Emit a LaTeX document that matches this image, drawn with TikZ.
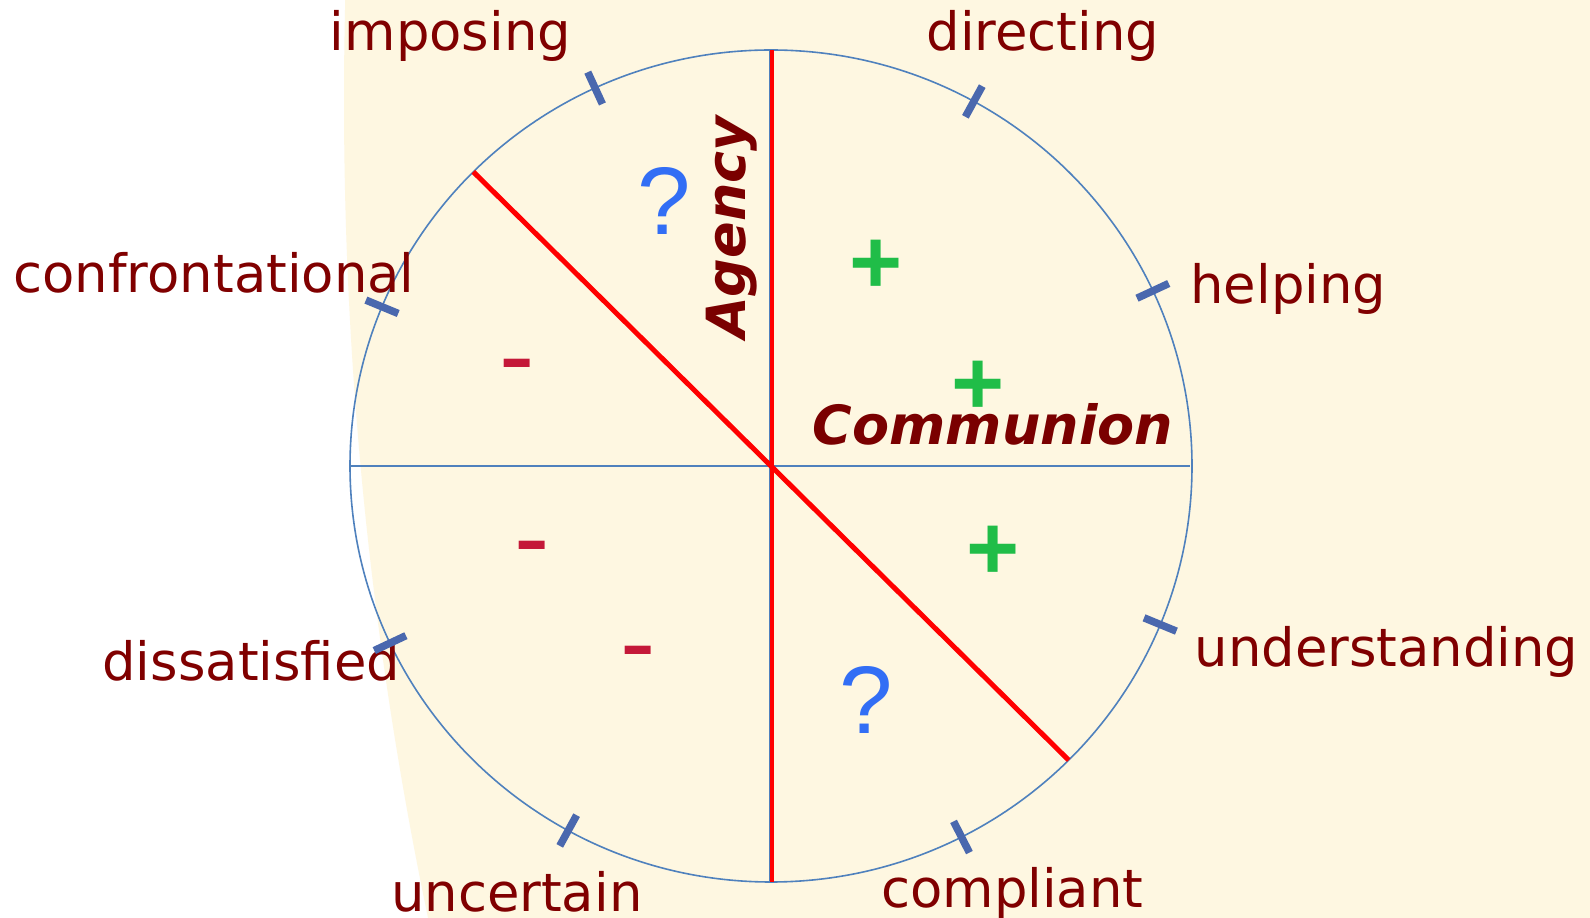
\documentclass[tikz,border=0pt]{standalone}
\usepackage{fontspec}
\setmainfont{DejaVu Sans}
\newfontfamily\symfont{Liberation Sans}
\usetikzlibrary{calc}
\definecolor{cream}{RGB}{254,247,225}
\definecolor{labred}{RGB}{128,0,0}
\definecolor{axred}{RGB}{122,0,0}
\definecolor{ringblue}{RGB}{79,129,189}
\definecolor{tickblue}{RGB}{74,104,174}
\definecolor{qblue}{RGB}{50,110,245}
\definecolor{pgreen}{RGB}{32,189,72}
\definecolor{mred}{RGB}{196,24,56}
\begin{document}
\begin{tikzpicture}[x=1pt,y=1pt,
 lab/.style={text=labred,font=\fontsize{52.8}{60}\selectfont,inner sep=0pt,anchor=base},
 axisword/.style={text=axred,font=\fontsize{54}{60}\selectfont\bfseries\itshape,inner sep=0pt,anchor=base},
 qmark/.style={text=qblue,font=\symfont\fontsize{96}{110}\selectfont,inner sep=0pt,anchor=base},
 plussign/.style={text=pgreen,font=\symfont\bfseries\fontsize{91}{100}\selectfont,inner sep=0pt,anchor=base},
 minussign/.style={text=mred,font=\symfont\fontsize{106}{110}\selectfont,inner sep=0pt,anchor=base},
 ring/.style={draw=ringblue,line width=1.6pt},
 axisline/.style={draw=ringblue,line width=2pt},
 redline/.style={draw=red,line width=5pt},
 tickmark/.style={draw=tickblue,line width=7.5pt},
]
\useasboundingbox (0,0) rectangle (1590,918);
\fill[white] (0,0) rectangle (1590,918);
\begin{scope}
\clip (0,0) rectangle (1590,918);
\fill[cream] (4328,818) circle [radius=3984];
\end{scope}

\coordinate (c) at (771,452);
\coordinate (W) at (349,452);
\coordinate (E) at (1190,452);
\coordinate (Nb) at (769.5,868);
\coordinate (Sb) at (769.5,36);
\coordinate (Nr) at (772.3,868);
\coordinate (Sr) at (772.3,36);
\coordinate (NW) at ($(c)+(135:421 and 416)$);
\coordinate (SE) at ($(c)+(-45:421 and 416)$);

\draw[ring] (c) ellipse [x radius=421, y radius=416];
\draw[axisline] (W) -- (E);
\draw[axisline] (Nb) -- (Sb);
\draw[redline,line width=4.3pt] (Nr) -- (Sr);
\draw[redline] (NW) -- (c) -- (SE);

% labels
\node[lab] (imposing) at (450.5,867.3) {imposing};
\node[lab] (directing) at (1042.8,867.3) {directing};
\node[lab] (helping) at (1288.3,614.7) {helping};
\node[lab] (understanding) at (1386.5,251.3) {understanding};
\node[lab] (compliant) at (1012.3,10.3) {compliant};
\node[lab] (uncertain) at (516.8,6.3) {uncertain};
\node[lab] (dissatisfied) at (251.3,237) {dissatisfied};
\node[lab] (confrontational) at (214,625.7) {confrontational};

% ticks
\foreach \t [count=\i] in {114.7,61.2,24.9,-22.4,-63.1,241.2,205.2,157.5}{
  \draw[tickmark,shift={(c)}] (\t:403.5 and 398.5) -- (\t:438.5 and 433.5);
}

% axis words
\node[axisword] (communion) at (993,473.7) {Communion};
\node[axisword,rotate=90] (agency) at (745.3,690.5) {Agency};

% symbols
\node[qmark] (q1) at (663.7,683) {?};
\node[qmark] (q2) at (866,184) {?};
\node[plussign] (p1) at (876,624.9) {+};
\node[plussign] (p2) at (978,503.5) {+};
\node[plussign] (p3) at (993,338.9) {+};
\node[minussign] (m1) at (517,526.6) {-};
\node[minussign] (m2) at (532,344.6) {-};
\node[minussign] (m3) at (638,239.6) {-};
\end{tikzpicture}
\end{document}
